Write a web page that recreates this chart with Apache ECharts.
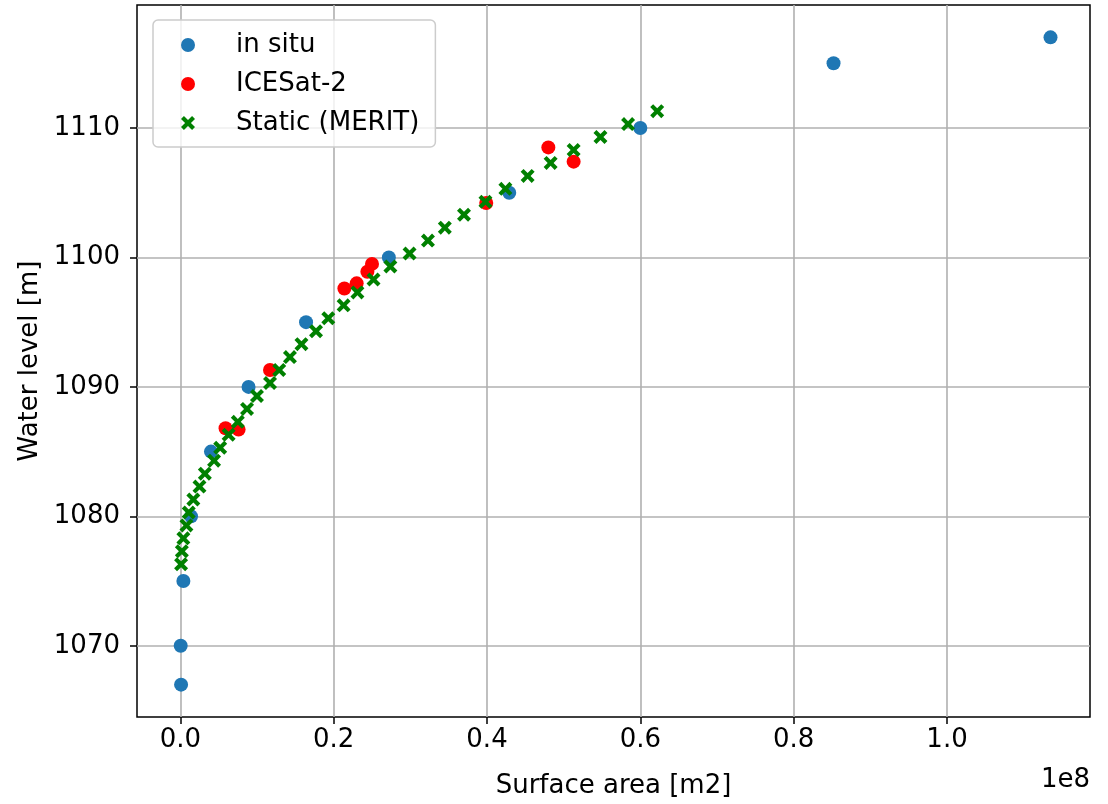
<!DOCTYPE html>
<html>
<head>
<meta charset="utf-8">
<script src="https://cdn.jsdelivr.net/npm/echarts@6/dist/echarts.min.js"></script>
<style>
html,body{margin:0;padding:0;background:#fff;}
#chart{width:1108px;height:804px;}
</style>
</head>
<body>
<div id="chart"></div>
<script>
// Surface area in units of 1e8 m2, water level in m
const inSituArea  = [0.001, 0.0005, 0.004, 0.014, 0.040, 0.089, 0.164, 0.272, 0.429, 0.600, 0.852, 1.135];
const inSituLevel = [1067, 1070, 1075, 1080, 1085, 1090, 1095, 1100, 1105, 1110, 1115, 1117];

const iceSatArea  = [0.059, 0.076, 0.117, 0.214, 0.230, 0.244, 0.250, 0.399, 0.480, 0.513];
const iceSatLevel = [1086.8, 1086.7, 1091.3, 1097.6, 1098.0, 1098.9, 1099.5, 1104.2, 1108.5, 1107.4];

const meritArea  = [0.001, 0.002, 0.004, 0.008, 0.011, 0.017, 0.025, 0.032, 0.044, 0.052,
                    0.063, 0.075, 0.087, 0.100, 0.117, 0.129, 0.143, 0.158, 0.177, 0.193,
                    0.213, 0.231, 0.252, 0.274, 0.299, 0.323, 0.345, 0.370, 0.398, 0.424,
                    0.453, 0.483, 0.513, 0.548, 0.584, 0.622];
const meritLevel = [1076.3, 1077.3, 1078.3, 1079.3, 1080.3, 1081.3, 1082.3, 1083.3, 1084.3, 1085.3,
                    1086.3, 1087.3, 1088.3, 1089.3, 1090.3, 1091.3, 1092.3, 1093.3, 1094.3, 1095.3,
                    1096.3, 1097.3, 1098.3, 1099.3, 1100.3, 1101.3, 1102.3, 1103.3, 1104.3, 1105.3,
                    1106.3, 1107.3, 1108.3, 1109.3, 1110.3, 1111.3];

const xTicks = [0.0, 0.2, 0.4, 0.6, 0.8, 1.0];
const yTicks = [1070, 1080, 1090, 1100, 1110];

const seriesNames = ['in situ', 'ICESat-2', 'Static (MERIT)'];
const xTitle = 'Surface area [m2]';
const yTitle = 'Water level [m]';
const offsetText = '1e8';

function zip(a, b) { return a.map((v, i) => [v, b[i]]); }

const FONT = 'DejaVu Sans';
const xMarker = 'path://M0,2.1L2.1,0L5,2.9L7.9,0L10,2.1L7.1,5L10,7.9L7.9,10L5,7.1L2.1,10L0,7.9L2.9,5Z';

const chart = echarts.init(document.getElementById('chart'), null, {renderer: 'canvas'});
chart.setOption({
  animation: false,
  backgroundColor: '#fff',
  textStyle: {fontFamily: FONT},
  grid: {
    left: 137, right: 18, top: 5, bottom: 86,
    show: true, borderColor: '#000', borderWidth: 1.5, backgroundColor: 'transparent'
  },
  legend: {
    orient: 'vertical',
    left: 153, top: 20,
    padding: [10, 16, 9, 28],
    itemGap: 9,
    itemWidth: 14, itemHeight: 14,
    backgroundColor: 'rgba(255,255,255,0.8)',
    borderColor: '#cccccc', borderWidth: 1.5, borderRadius: 5,
    textStyle: {fontFamily: FONT, fontSize: 26, color: '#000', lineHeight: 30, padding: [0, 0, 0, 36]},
    data: seriesNames
  },
  xAxis: {
    type: 'value',
    min: -0.0565, max: 1.1865,
    axisLine: {show: false, onZero: false},
    axisTick: {show: true, inside: false, length: 7, lineStyle: {color: '#000', width: 1.5}, customValues: xTicks},
    axisLabel: {
      fontFamily: FONT, fontSize: 26, color: '#000', margin: 10,
      customValues: xTicks,
      formatter: v => v.toFixed(1)
    },
    splitLine: {show: true, lineStyle: {color: '#b0b0b0', width: 1.6}},
    name: xTitle, nameLocation: 'middle', nameGap: 56,
    nameTextStyle: {fontFamily: FONT, fontSize: 26, color: '#000'}
  },
  yAxis: {
    type: 'value',
    min: 1064.5, max: 1119.5,
    axisLine: {show: false, onZero: false},
    axisTick: {show: true, inside: false, length: 7, lineStyle: {color: '#000', width: 1.5}, customValues: yTicks},
    axisLabel: {
      fontFamily: FONT, fontSize: 26, color: '#000', margin: 17,
      customValues: yTicks,
      formatter: v => String(Math.round(v))
    },
    splitLine: {show: true, lineStyle: {color: '#b0b0b0', width: 1.6}},
    name: yTitle, nameLocation: 'middle', nameGap: 93, nameRotate: 90,
    nameTextStyle: {fontFamily: FONT, fontSize: 26, color: '#000'}
  },
  graphic: [{
    type: 'text', right: 18, top: 767,
    style: {text: offsetText, font: '26px "DejaVu Sans"', fill: '#000'}
  }],
  series: [
    {
      name: seriesNames[0], type: 'scatter', symbol: 'circle', symbolSize: 14,
      itemStyle: {color: '#1f77b4', opacity: 1},
      data: zip(inSituArea, inSituLevel)
    },
    {
      name: seriesNames[1], type: 'scatter', symbol: 'circle', symbolSize: 14,
      itemStyle: {color: '#ff0000', opacity: 1},
      data: zip(iceSatArea, iceSatLevel)
    },
    {
      name: seriesNames[2], type: 'scatter', symbol: xMarker, symbolSize: 14,
      itemStyle: {color: '#008000', opacity: 1},
      data: zip(meritArea, meritLevel)
    }
  ]
});
</script>
</body>
</html>
